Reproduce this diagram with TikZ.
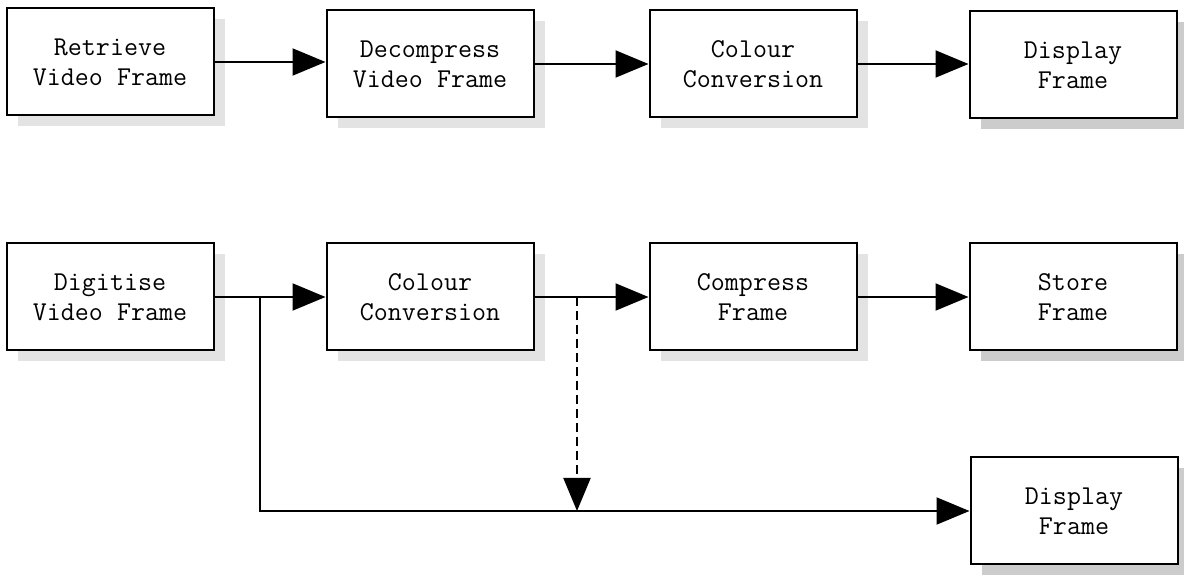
\documentclass[tikz,border=0pt]{standalone}
\usepackage{fontspec}
\usetikzlibrary{arrows.meta,shadows}
\begin{document}
\begin{tikzpicture}[x=0.5pt,y=-0.5pt,
  blk/.style={draw,line width=1pt,fill=white,minimum width=103.5pt,minimum height=53.5pt,
    align=center,inner sep=0pt,font=\ttfamily\fontsize{13.6}{15}\selectfont,
    drop shadow={shadow xshift=5.5pt,shadow yshift=-5.5pt,fill=gray!22,opacity=1}},
  blkd/.style={blk,drop shadow={shadow xshift=5.5pt,shadow yshift=-5.5pt,fill=gray!40,opacity=1}},
  conn/.style={line width=1pt,-{Triangle[length=16.5pt,width=13.5pt]}},
  dconn/.style={conn,dash pattern=on 4.5pt off 2.5pt}]
\useasboundingbox (0,0) rectangle (1184,582);
% row 1
\node[blk] (a1) at (110,62) {Retrieve\\Video Frame};
\node[blk] (a2) at (430,64) {Decompress\\Video Frame};
\node[blk] (a3) at (753,64) {Colour\\Conversion};
\node[blkd] (a4) at (1073,65) {Display\\Frame};
% row 2
\node[blk] (b1) at (110,297) {Digitise\\Video Frame};
\node[blk] (b2) at (430,297) {Colour\\Conversion};
\node[blk] (b3) at (753,297) {Compress\\Frame};
\node[blkd] (b4) at (1073,297) {Store\\Frame};
% row 3
\node[blkd] (c4) at (1074,511) {Display\\Frame};
% connectors row 1
\draw[conn] (a1.east) -- (a1.east -| a2.west);
\draw[conn] (a2.east) -- (a3.west);
\draw[conn] (a3.east) -- (a3.east -| a4.west);
% connectors row 2
\draw[conn] (b1.east) -- (b2.west);
\draw[conn] (b2.east) -- (b3.west);
\draw[conn] (b3.east) -- (b4.west);
% branch
\coordinate (br) at (260,297);
\draw[conn] (br) |- (c4.west);
\coordinate (dt) at (577,297);
\coordinate (db) at (577,511);
\draw[dconn] (dt) -- (db);
\end{tikzpicture}
\end{document}
